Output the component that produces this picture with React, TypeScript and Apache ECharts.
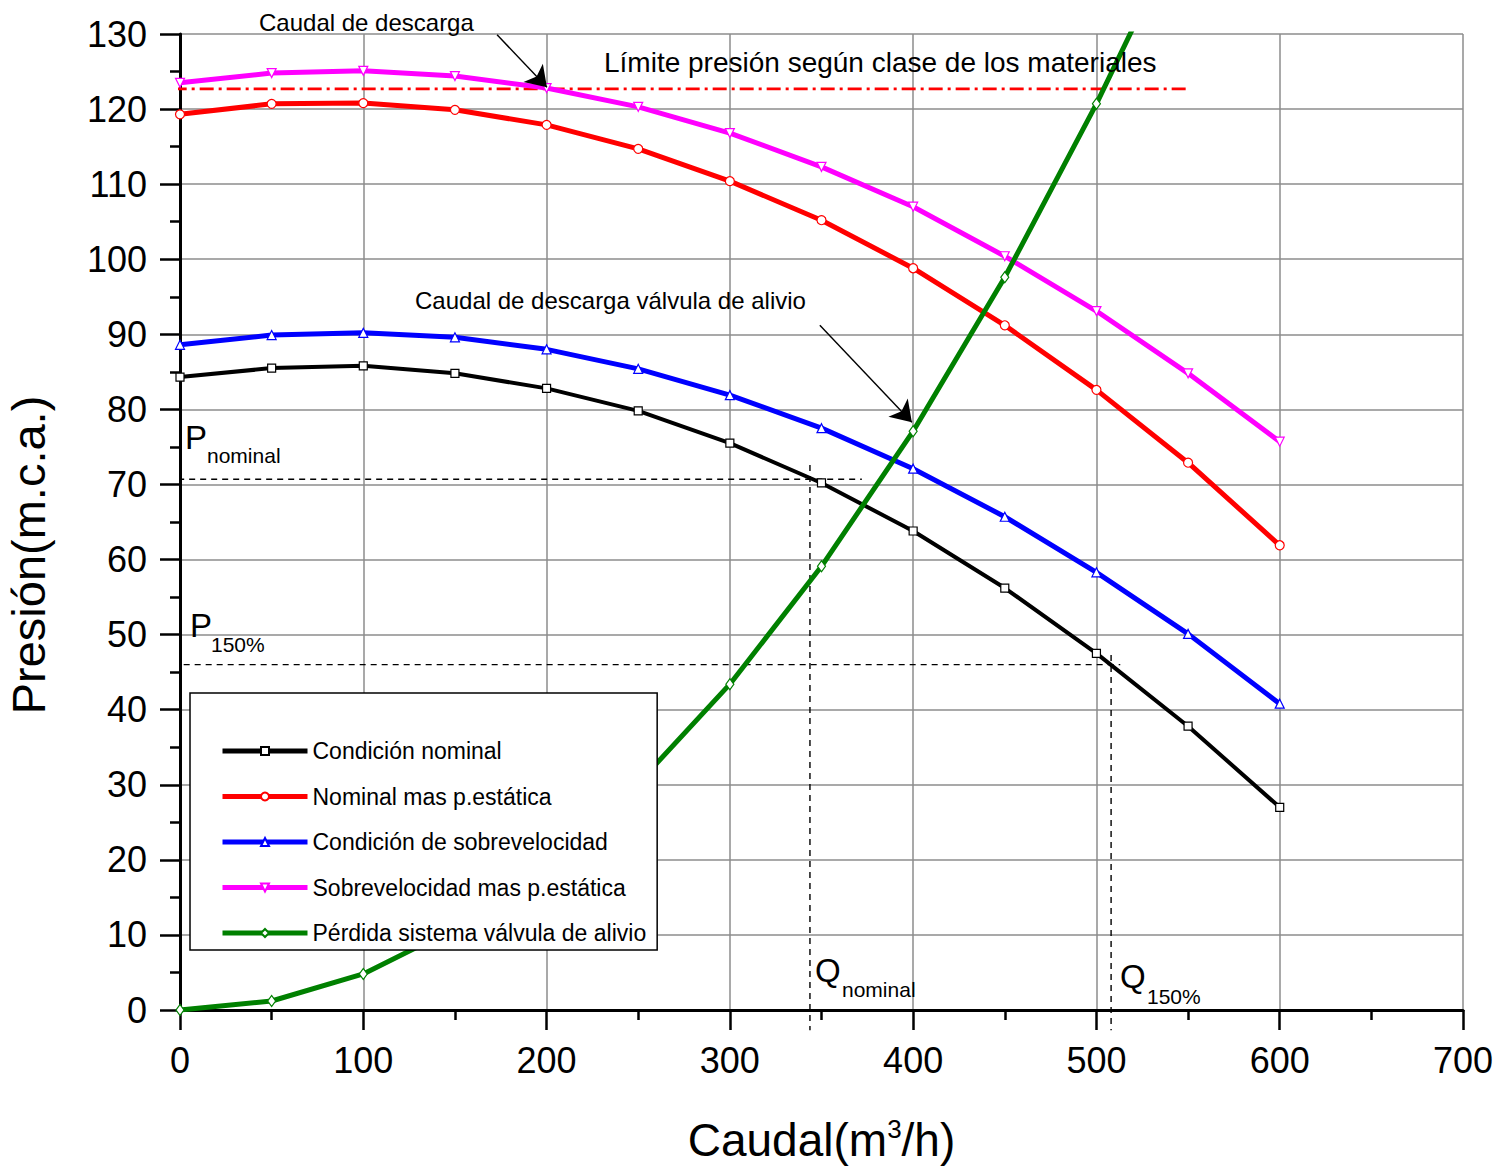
import React, { useEffect, useRef } from "react";
import * as echarts from "echarts";

const flow = [0, 50, 100, 150, 200, 250, 300, 350, 400, 450, 500, 550, 600];
const nominal = [84.3, 85.5, 85.8, 84.8, 82.8, 79.8, 75.5, 70.2, 63.8, 56.2, 47.5, 37.8, 27.0];
const nominalStatic = [119.3, 120.7, 120.8, 119.9, 117.9, 114.7, 110.4, 105.2, 98.8, 91.2, 82.6, 72.9, 61.9];
const overspeed = [88.6, 89.9, 90.2, 89.6, 88.0, 85.4, 81.9, 77.5, 72.1, 65.7, 58.3, 50.1, 40.8];
const overspeedStatic = [123.5, 124.8, 125.1, 124.4, 122.8, 120.3, 116.8, 112.3, 107.0, 100.4, 93.1, 84.8, 75.7];
const reliefFlow = [0, 50, 100, 150, 200, 250, 300, 350, 400, 450, 500, 550];
const reliefLoss = [0, 1.2, 4.8, 10.9, 19.4, 30.2, 43.4, 59.1, 77.1, 97.6, 120.7, 146];

const seriesNames = [
  "Condición nominal",
  "Nominal mas p.estática",
  "Condición de sobrevelocidad",
  "Sobrevelocidad mas p.estática",
  "Pérdida sistema válvula de alivio",
];

const materialLimit = 122.7;
const materialLimitRange = [-4, 551];
const pNominal = 70.7;
const pNominalRange = [-19, 372];
const qNominal = 343.7;
const qNominalRange = [72.6, -2.7];
const p150 = 46;
const p150Range = [-4, 513];
const q150 = 508;
const q150Range = [47.3, -2.7];
const arrowDischarge = [[173, 129.9], [200.2, 122.9]];
const arrowRelief = [[349.1, 91.2], [399.3, 78.3]];

const FONT = 'Arial, "Liberation Sans", sans-serif';

function pairs(xs: number[], ys: number[]) {
  return xs.map((x, i) => [x, ys[i]]);
}

export default function App() {
  const ref = useRef<HTMLDivElement>(null);
  useEffect(() => {
    if (!ref.current) return;
    const chart = echarts.init(ref.current, undefined, { renderer: "svg" });
    const mk = (name: string, color: string, data: number[][], symbol: string, size: any, width: number, rotate = 0) => ({
      name,
      type: "line",
      data,
      symbol,
      symbolSize: size,
      symbolRotate: rotate,
      showAllSymbol: true,
      clip: true,
      lineStyle: { color, width },
      itemStyle: { color: "#ffffff", borderColor: color, borderWidth: 1.2 },
      emphasis: { disabled: true },
      z: 3,
    });
    const refLine = (coords: number[][], lineStyle: any) => ({
      type: "line",
      data: coords,
      symbol: "none",
      clip: false,
      silent: true,
      lineStyle,
      z: 2,
    });
    const dashBlack = { color: "#000", width: 1.4, type: [6, 5] };
    const textEl = (text: string, x: number, y: number, size: number) => ({
      type: "text",
      x,
      y,
      style: { text, fill: "#000", fontSize: size, fontFamily: FONT, align: "left", verticalAlign: "middle" },
      z: 10,
    });
    chart.setOption({
      animation: false,
      backgroundColor: "#ffffff",
      textStyle: { fontFamily: FONT },
      grid: { left: 180, top: 34, right: 36, bottom: 158, containLabel: false, outerBoundsMode: "none" },
      xAxis: {
        type: "value",
        min: 0,
        max: 700,
        interval: 100,
        name: "Caudal(m{sup|3}/h)",
        nameLocation: "middle",
        nameGap: 106,
        nameTextStyle: {
          fontSize: 46,
          color: "#000",
          fontFamily: FONT,
          lineHeight: 48,
          rich: { sup: { fontSize: 26, fontFamily: FONT, color: "#000", verticalAlign: "top", lineHeight: 30 } },
        },
        axisLine: { show: true, onZero: false, lineStyle: { color: "#000", width: 3 } },
        axisTick: { show: true, length: 20, lineStyle: { color: "#000", width: 2.5 } },
        minorTick: { show: true, splitNumber: 2, length: 10, lineStyle: { color: "#000", width: 2.5 } },
        splitLine: { show: true, lineStyle: { color: "#8c8c8c", width: 1.5 } },
        axisLabel: { fontSize: 36, color: "#000", margin: 32, fontFamily: FONT },
      },
      yAxis: {
        type: "value",
        min: 0,
        max: 130,
        interval: 10,
        name: "Presión(m.c.a.)",
        nameLocation: "middle",
        nameGap: 128,
        nameTextStyle: { fontSize: 47, color: "#000", fontFamily: FONT, padding: [0, 66, 0, 0] },
        axisLine: { show: true, onZero: false, lineStyle: { color: "#000", width: 3 } },
        axisTick: { show: true, length: 20, lineStyle: { color: "#000", width: 2.5 } },
        minorTick: { show: true, splitNumber: 2, length: 10, lineStyle: { color: "#000", width: 2.5 } },
        splitLine: { show: true, lineStyle: { color: "#8c8c8c", width: 1.5 } },
        axisLabel: { fontSize: 36, color: "#000", margin: 33, fontFamily: FONT },
      },
      legend: {
        data: seriesNames,
        orient: "vertical",
        left: 190,
        top: 693,
        padding: [45, 11, 4, 30],
        itemWidth: 85,
        itemHeight: 10,
        itemGap: 19.5,
        backgroundColor: "#ffffff",
        borderColor: "#000",
        borderWidth: 1.5,
        lineStyle: { width: 5 },
        textStyle: { fontSize: 23, color: "#000", fontFamily: FONT, lineHeight: 26 },
        z: 8,
      },
      series: [
        refLine(
          [[materialLimitRange[0], materialLimit], [materialLimitRange[1], materialLimit]],
          { color: "#ff0000", width: 2.7, type: [14, 5, 3, 5] }
        ),
        refLine([[pNominalRange[0], pNominal], [pNominalRange[1], pNominal]], dashBlack),
        refLine([[qNominal, qNominalRange[0]], [qNominal, qNominalRange[1]]], dashBlack),
        refLine([[p150Range[0], p150], [p150Range[1], p150]], dashBlack),
        refLine([[q150, q150Range[0]], [q150, q150Range[1]]], dashBlack),
        mk(seriesNames[0], "#000000", pairs(flow, nominal), "rect", 8, 4),
        mk(seriesNames[1], "#ff0000", pairs(flow, nominalStatic), "circle", 9, 5),
        mk(seriesNames[2], "#0000ff", pairs(flow, overspeed), "triangle", 9, 5),
        mk(seriesNames[3], "#ff00ff", pairs(flow, overspeedStatic), "triangle", 9, 5, 180),
        mk(seriesNames[4], "#008000", pairs(reliefFlow, reliefLoss), "diamond", [8, 11], 5),
        {
          type: "lines",
          coordinateSystem: "cartesian2d",
          clip: false,
          silent: true,
          z: 5,
          symbol: ["none", "arrow"],
          symbolSize: 20,
          lineStyle: { color: "#000", width: 1.4, opacity: 1, curveness: 0 },
          data: [{ coords: arrowDischarge }, { coords: arrowRelief }],
        },
      ],
      graphic: [
        textEl("Caudal de descarga", 259, 22, 24),
        textEl("Límite presión según clase de los materiales", 604, 62, 28),
        textEl("Caudal de descarga válvula de alivio", 415, 300, 24),
        textEl("P", 185, 437, 33),
        textEl("nominal", 207, 455, 21),
        textEl("P", 190, 625, 33),
        textEl("150%", 211, 644, 21),
        textEl("Q", 815, 970, 33),
        textEl("nominal", 842, 989, 21),
        textEl("Q", 1120, 976, 33),
        textEl("150%", 1147, 996, 21),
      ],
    });
    return () => chart.dispose();
  }, []);
  return <div ref={ref} style={{ position: "fixed", left: 0, top: 0, width: 1499, height: 1168 }} />;
}
